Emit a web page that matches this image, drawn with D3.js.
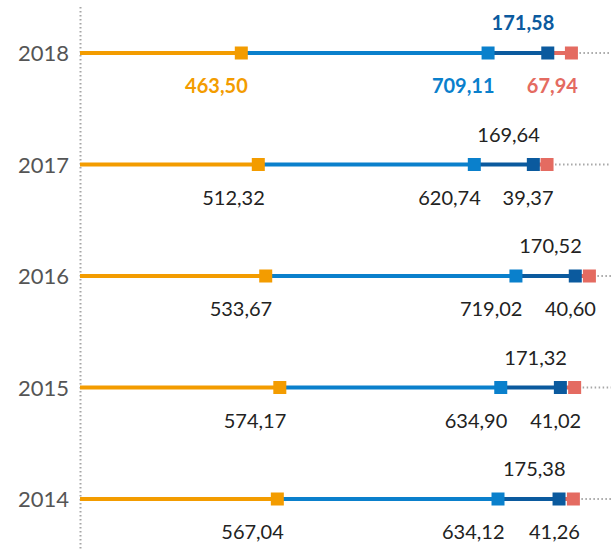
<!DOCTYPE html>
<html>
<head>
<meta charset="utf-8">
<script src="https://cdn.jsdelivr.net/npm/d3@7"></script>
<style>
  html, body { margin: 0; padding: 0; background: #fff; }
  svg { display: block; font-family: Lato, "Open Sans", sans-serif; }
</style>
</head>
<body>
<svg id="chart" width="611" height="551"></svg>
<script>
// Years, top to bottom
const years = ["2018", "2017", "2016", "2015", "2014"];
// Segment values per year (stacked end to end)
const partA = [463.50, 512.32, 533.67, 574.17, 567.04];
const partB = [709.11, 620.74, 719.02, 634.90, 634.12];
const partC = [171.58, 169.64, 170.52, 171.32, 175.38];
const partD = [67.94, 39.37, 40.60, 41.02, 41.26];
// Value labels as printed
const labelsA = ["463,50", "512,32", "533,67", "574,17", "567,04"];
const labelsB = ["709,11", "620,74", "719,02", "634,90", "634,12"];
const labelsC = ["171,58", "169,64", "170,52", "171,32", "175,38"];
const labelsD = ["67,94", "39,37", "40,60", "41,02", "41,26"];

const colors = ["#f39c00", "#0a80cc", "#0b5a9e", "#e46b61"];
const parts = [partA, partB, partC, partD];
const labels = [labelsA, labelsB, labelsC, labelsD];
// label above (-1) or below (+1) the line, per segment
const side = [1, 1, -1, 1];

const W = 611, H = 551;
const svg = d3.select("#chart");

const x = d3.scaleLinear().domain([0, 1500]).range([80, 602]);
const y = d3.scalePoint().domain(years).range([53, 499]);

// vertical dotted axis
svg.append("line")
  .attr("x1", 80.5).attr("x2", 80.5)
  .attr("y1", 7).attr("y2", H)
  .attr("stroke", "#a6a6a6").attr("stroke-width", 2)
  .attr("stroke-dasharray", "1.5,2.5");

// year labels
svg.selectAll("text.year").data(years).enter().append("text")
  .attr("class", "year")
  .attr("x", 69).attr("y", d => y(d) + 8)
  .attr("text-anchor", "end")
  .attr("font-size", 22)
  .attr("fill", "#555")
  .text(d => d);

years.forEach((yr, i) => {
  const g = svg.append("g");
  const yy = y(yr);
  let cum = 0;
  const segs = parts.map((p, k) => {
    const s = { start: cum, end: cum + p[i], k };
    cum += p[i];
    return s;
  });

  // dotted tail to the right edge
  g.append("line")
    .attr("x1", x(cum)).attr("x2", W)
    .attr("y1", yy).attr("y2", yy)
    .attr("stroke", "#a6a6a6").attr("stroke-width", 2)
    .attr("stroke-dasharray", "1.5,2.5");

  segs.forEach(s => {
    g.append("line")
      .attr("x1", x(s.start)).attr("x2", x(s.end))
      .attr("y1", yy).attr("y2", yy)
      .attr("stroke", colors[s.k]).attr("stroke-width", 4);
  });
  segs.forEach(s => {
    g.append("rect")
      .attr("x", x(s.end) - 6.5).attr("y", yy - 6.5)
      .attr("width", 13).attr("height", 13)
      .attr("fill", colors[s.k]);
    const bold = i === 0;
    g.append("text")
      .attr("x", x(s.end) + 6.5)
      .attr("y", side[s.k] > 0 ? yy + 40 : yy - 23)
      .attr("text-anchor", "end")
      .attr("font-size", 20)
      .attr("font-weight", bold ? 700 : 400)
      .attr("fill", bold ? colors[s.k] : "#222")
      .text(labels[s.k][i]);
  });
});
</script>
</body>
</html>
